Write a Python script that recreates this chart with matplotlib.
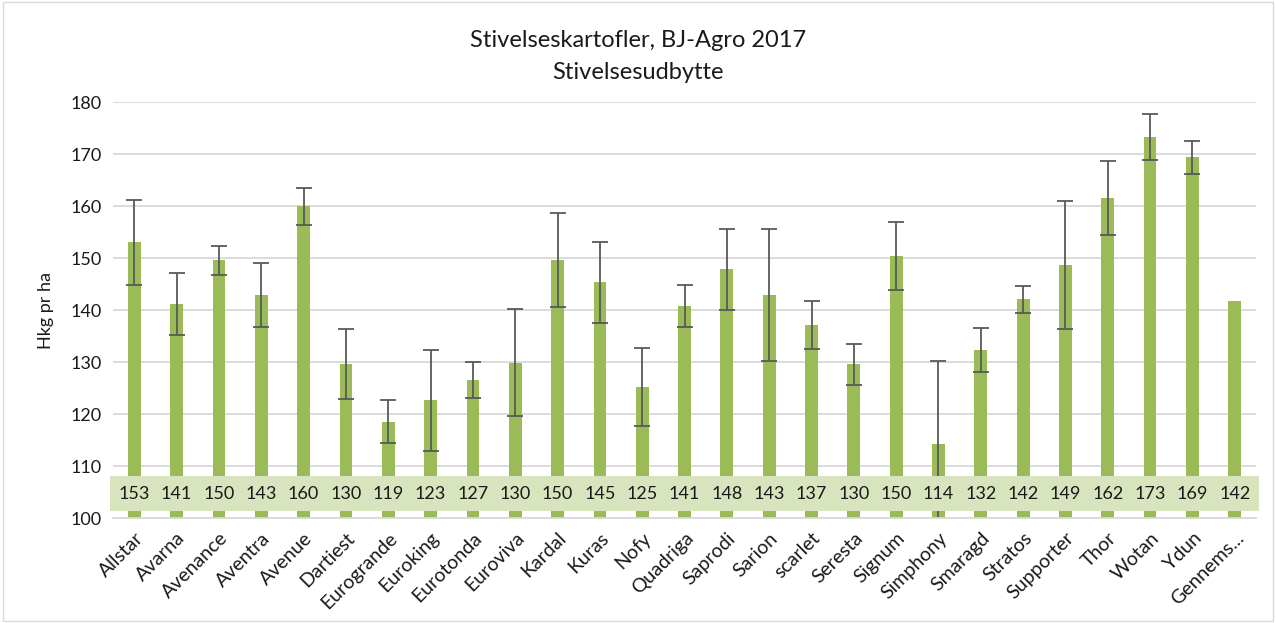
import numpy as np
import matplotlib.pyplot as plt
from matplotlib.patches import Rectangle

plt.rcParams['font.family'] = ['Lato', 'DejaVu Sans']

sorter = ['Allstar', 'Avarna', 'Avenance', 'Aventra', 'Avenue', 'Dartiest',
          'Eurogrande', 'Euroking', 'Eurotonda', 'Euroviva', 'Kardal', 'Kuras',
          'Nofy', 'Quadriga', 'Saprodi', 'Sarion', 'scarlet', 'Seresta',
          'Signum', 'Simphony', 'Smaragd', 'Stratos', 'Supporter', 'Thor',
          'Wotan', 'Ydun', 'Gennems...']
udbytte = [153.1, 141.2, 149.6, 142.9, 160.0, 129.7, 118.6, 122.7, 126.6,
           129.9, 149.7, 145.4, 125.3, 140.8, 147.9, 142.9, 137.1, 129.6,
           150.4, 114.2, 132.4, 142.1, 148.7, 161.6, 173.3, 169.4, 141.7]
fejl = [8.2, 6.0, 2.8, 6.2, 3.5, 6.7, 4.1, 9.7, 3.4, 10.3, 9.0, 7.8, 7.5,
        4.0, 7.8, 12.7, 4.6, 4.0, 6.5, 16.0, 4.2, 2.6, 12.3, 7.2, 4.4, 3.2,
        np.nan]

fig = plt.figure(figsize=(12.76, 6.23), dpi=100)
ax = fig.add_axes([0.0886, 0.168, 0.8957, 0.6678])

x = np.arange(len(sorter))
ax.bar(x, np.array(udbytte) - 100, bottom=100, width=0.3, color='#9BBB59', zorder=2)
ax.errorbar(x, udbytte, yerr=fejl, fmt='none', ecolor='#595959', elinewidth=1.3,
            capsize=6, capthick=1.3, zorder=2.5)

# label band
ax.add_patch(Rectangle((-0.57, 101.4), len(sorter) + 0.14, 6.7, facecolor='#D7E4BD',
                       edgecolor='none', zorder=3, clip_on=False))
for xi, v in zip(x, udbytte):
    ax.text(xi, 104.7, f"{v:.0f}", ha='center', va='center', fontsize=13,
            color='#1a1a1a', zorder=4)

ax.set_xlim(-0.5, len(sorter) - 0.5)
ax.set_ylim(100, 180)
ax.set_yticks(np.arange(100, 181, 10))
ax.yaxis.grid(True, color='#D9D9D9', linewidth=1.3, zorder=0)
ax.set_axisbelow(True)
for s in ['top', 'right', 'left']:
    ax.spines[s].set_visible(False)
ax.spines['bottom'].set_color('#D9D9D9')
ax.spines['bottom'].set_linewidth(1.3)
ax.tick_params(axis='y', length=0, labelsize=13, colors='#1a1a1a', pad=8)
ax.tick_params(axis='x', length=0, labelsize=14, colors='#1a1a1a', pad=8)
ax.set_xticks(x)
ax.set_xticklabels(sorter, rotation=45, ha='right', rotation_mode='anchor')
ax.set_ylabel('Hkg pr ha', fontsize=13, color='#1a1a1a', labelpad=12)

fig.text(0.5, 0.935, 'Stivelseskartofler, BJ-Agro 2017', ha='center', va='center',
         fontsize=17, color='#1a1a1a')
fig.text(0.5, 0.883, 'Stivelsesudbytte', ha='center', va='center',
         fontsize=17, color='#1a1a1a')

fig.add_artist(Rectangle((0.002, 0.003), 0.996, 0.994, transform=fig.transFigure,
                         fill=False, edgecolor='#D9D9D9', linewidth=1))

fig.savefig('out.png', dpi=100)
